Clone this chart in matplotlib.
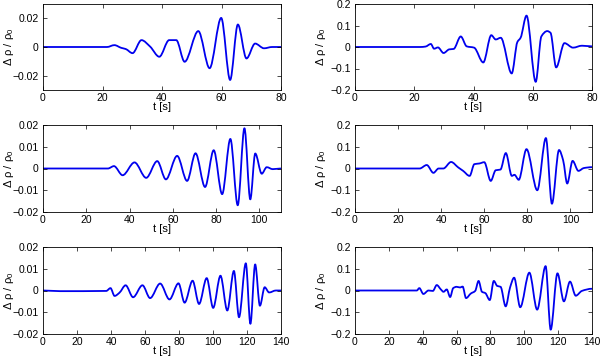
import numpy as np
import matplotlib
matplotlib.use("Agg")
import matplotlib.pyplot as plt
from matplotlib.path import Path
from matplotlib.patches import PathPatch

# ---------------- data ----------------
t1 = [0, 18, 21.5, 24.0, 26.3, 27.8, 30.1, 33.1, 36.0, 39.1, 42.4, 44.8, 47.6, 52.2,
      56.0, 59.9, 62.9, 65.5, 68.4, 71.3, 74.3, 77, 80]
v1 = [0, 0, 0, 0.0013, -0.0006, -0.0014, -0.0043, 0.0048, 0.0003, -0.0068, 0.0048,
      0.0048, -0.0103, 0.0111, -0.0148, 0.0203, -0.0230, 0.0157, -0.0080, 0.0024,
      -0.0009, 0, 0]

t2 = [0, 22, 23.8, 25.6, 26.7, 28.0, 29.9, 31.8, 33.3, 35.7, 37.7, 40.2, 43.3, 46.0,
      47.5, 49.2, 52.9, 54.8, 55.9, 57.9, 61.0, 62.9, 64.9, 66.0, 67.9, 70.7, 73.6,
      76.6, 80]
v2 = [0, 0, 0.002, 0.014, -0.008, -0.002, -0.028, -0.011, -0.009, 0.049, 0.003,
      -0.003, -0.072, 0.055, 0.035, 0.043, -0.123, 0.023, 0.043, 0.146, -0.162, 0.049,
      0.074, 0.066, -0.095, 0.018, -0.003, 0.006, 0.003]

t3 = [0, 30, 32.8, 36.8, 42.3, 47.7, 52.8, 56.8, 62.0, 66.6, 70.5, 74.9, 78.9, 82.8,
      86.6, 90.0, 93.1, 95.8, 98.1, 101.1, 103.4, 106.2, 110]
v3 = [0, 0, 0.0011, -0.0031, 0.0028, -0.0043, 0.0034, -0.0050, 0.0058, -0.0057,
      0.0070, -0.0085, 0.0084, -0.0118, 0.0136, -0.0169, 0.0185, -0.0142, 0.0069,
      -0.0024, 0.0006, -0.0003, 0]

t4 = [0, 30, 33.3, 36.4, 38.8, 41.0, 44.6, 47.9, 50.2, 53.2, 55.4, 57.7, 60.0, 63.0,
      65.3, 67.5, 70.0, 72.8, 74.0, 76.0, 79.6, 84.6, 88.6, 91.4, 94.7, 96.6, 98.5,
      101.0, 103.7, 106.2, 110]
v4 = [0, 0, 0.016, -0.020, 0.0, 0.0, 0.030, 0.005, -0.011, -0.034, 0.020, 0.023,
      0.029, -0.057, -0.008, -0.005, 0.071, -0.034, -0.029, -0.052, 0.089, -0.100,
      0.140, -0.162, 0.085, 0.038, -0.069, 0.035, -0.011, 0.002, 0.006]

t5 = [0, 10, 37.2, 39.7, 42.1, 45.0, 48.6, 53.0, 58.5, 63.0, 68.9, 74.4, 79.7, 83.3,
      88.0, 91.8, 96.3, 100.1, 104.4, 108.4, 112.3, 115.3, 119.3, 122.0, 124.8, 127.6,
      130.4, 133.0, 137, 140]
v5 = [0, -0.0003, -0.0002, 0.0011, -0.0025, -0.0010, 0.0024, -0.0031, 0.0024, -0.0035,
      0.0032, -0.0041, 0.0033, -0.0056, 0.0045, -0.0062, 0.0057, -0.0080, 0.0068,
      -0.0092, 0.0090, -0.0123, 0.0125, -0.0153, 0.0120, -0.0070, 0.0015, -0.0009, 0, 0]

t6 = [0, 36.5, 38.0, 40.4, 43.4, 46.0, 48.3, 50.7, 52.3, 54.2, 56.2, 58.0, 60.0, 62.0,
      63.6, 65.6, 68.4, 71.0, 73.0, 75.0, 77.0, 79.6, 82.0, 84.0, 86.0, 89.0, 91.6,
      94.0, 97.6, 103.0, 107.6, 112.6, 115.6, 119.6, 123.4, 127.0, 130.4, 134.0, 140]
v6 = [0, 0, 0.011, -0.016, 0.0, -0.002, 0.025, 0.005, -0.006, 0.005, -0.030, 0.011,
      0.017, 0.014, 0.018, -0.035, -0.014, -0.002, 0.044, -0.006, -0.012, -0.044, 0.044,
      0.021, 0.017, -0.073, 0.014, 0.059, -0.077, 0.082, -0.088, 0.112, -0.180, 0.079,
      -0.050, 0.041, -0.024, -0.002, 0.008]

xmax = [80, 80, 110, 110, 140, 140]
xticks_list = [[0, 20, 40, 60, 80], [0, 20, 40, 60, 80],
               [0, 20, 40, 60, 80, 100], [0, 20, 40, 60, 80, 100],
               [0, 20, 40, 60, 80, 100, 120, 140], [0, 20, 40, 60, 80, 100, 120, 140]]
ylims = [(-0.03, 0.03), (-0.2, 0.2), (-0.02, 0.02), (-0.2, 0.2), (-0.02, 0.02), (-0.2, 0.2)]
yticks_list = [[-0.02, 0, 0.02], [-0.2, -0.1, 0, 0.1, 0.2],
               [-0.02, -0.01, 0, 0.01, 0.02], [-0.2, -0.1, 0, 0.1, 0.2],
               [-0.02, -0.01, 0, 0.01, 0.02], [-0.2, -0.1, 0, 0.1, 0.2]]
ytick_labels = [["\u22120.02", "0", "0.02"], ["\u22120.2", "\u22120.1", "0", "0.1", "0.2"],
                ["\u22120.02", "\u22120.01", "0", "0.01", "0.02"],
                ["\u22120.2", "\u22120.1", "0", "0.1", "0.2"],
                ["\u22120.02", "\u22120.01", "0", "0.01", "0.02"],
                ["\u22120.2", "\u22120.1", "0", "0.1", "0.2"]]
series = [(t1, v1), (t2, v2), (t3, v3), (t4, v4), (t5, v5), (t6, v6)]


def smooth_path(x, y):
    """Monotone cubic (Fritsch-Carlson) Bezier path through the given points."""
    x = np.asarray(x, float)
    y = np.asarray(y, float)
    h = np.diff(x)
    d = np.diff(y) / h
    m = np.zeros_like(y)
    for i in range(1, len(y) - 1):
        if d[i - 1] * d[i] > 0:
            w1 = 2 * h[i] + h[i - 1]
            w2 = h[i] + 2 * h[i - 1]
            m[i] = (w1 + w2) / (w1 / d[i - 1] + w2 / d[i])
    verts = [(x[0], y[0])]
    codes = [Path.MOVETO]
    for i in range(len(x) - 1):
        verts += [(x[i] + h[i] / 3, y[i] + m[i] * h[i] / 3),
                  (x[i + 1] - h[i] / 3, y[i + 1] - m[i + 1] * h[i] / 3),
                  (x[i + 1], y[i + 1])]
        codes += [Path.CURVE4] * 3
    return Path(verts, codes)


plt.rcParams['font.family'] = ['Liberation Sans', 'DejaVu Sans']
plt.rcParams['mathtext.fontset'] = 'custom'
plt.rcParams['mathtext.rm'] = 'Liberation Sans'
plt.rcParams['mathtext.it'] = 'Liberation Sans'

fig = plt.figure(figsize=(6.0, 3.56), dpi=100)
lefts = [43 / 600, 355 / 600]
widths = [238 / 600, 237 / 600]
bottoms = [1 - 90 / 356, 1 - 212 / 356, 1 - 334 / 356]
heights = [86 / 356, 87 / 356, 87 / 356]

for k in range(6):
    r, c = divmod(k, 2)
    ax = fig.add_axes([lefts[c], bottoms[r], widths[c], heights[r]])
    t, v = series[k]
    ax.add_patch(PathPatch(smooth_path(t, v), fill=False, edgecolor='#0000ee',
                           lw=1.3, transform=ax.transData, joinstyle='round'))
    ax.set_xlim(0, xmax[k])
    ax.set_ylim(*ylims[k])
    ax.set_xticks(xticks_list[k])
    ax.set_xticklabels([str(x) for x in xticks_list[k]])
    ax.set_yticks(yticks_list[k])
    ax.set_yticklabels(ytick_labels[k])
    ax.tick_params(direction='in', top=True, right=True, length=3, width=0.5,
                   labelsize=7.5)
    ax.tick_params(axis='x', pad=2)
    ax.tick_params(axis='y', pad=3)
    for s in ax.spines.values():
        s.set_linewidth(0.6)
    ax.set_xlabel('t [s]', fontsize=8, labelpad=-0.5)
    ax.set_ylabel('\u0394 \u03c1 / \u03c1$_0$', fontsize=8)
    ax.yaxis.set_label_coords(-0.112, 0.5)

fig.savefig('out.png', dpi=100)
